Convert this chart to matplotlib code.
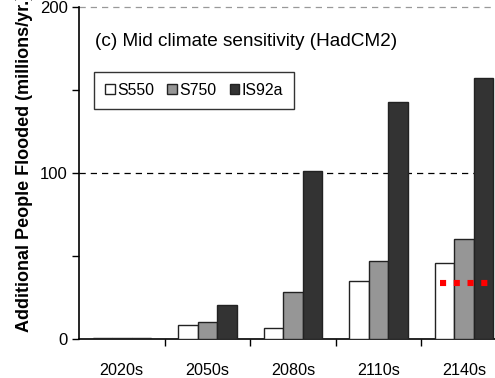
import matplotlib
matplotlib.use("Agg")
import matplotlib.pyplot as plt
import numpy as np

plt.rcParams['font.family'] = ['Liberation Sans', 'DejaVu Sans']

categories = ["2020s", "2050s", "2080s", "2110s", "2140s"]
s550 = [0.5, 8.6, 7.0, 35.0, 46.2]
s750 = [0.5, 10.2, 28.6, 47.0, 60.7]
is92a = [0.5, 20.6, 101.3, 143.0, 157.4]
series_names = ["S550", "S750", "IS92a"]
colors = ["white", "#969696", "#333333"]
red_level = 34.2

fig = plt.figure(figsize=(4.95, 3.78), dpi=100)
ax = fig.add_axes([79/495, 1-339.3/378, 428/495, (339.3-7.3)/378])

x = np.arange(len(categories))
w = 0.228
for i, (vals, name, c) in enumerate(zip([s550, s750, is92a], series_names, colors)):
    ax.bar(x + (i-1)*w, vals, width=w, color=c, edgecolor="#222222", linewidth=1.0, label=name, zorder=3)

ax.axhline(100, color="black", linestyle=(0, (5, 4)), linewidth=0.9, zorder=1)
ax.axhline(200, color="#999999", linestyle=(0, (5, 4)), linewidth=0.9, zorder=1, clip_on=False)
ax.plot([3.72, 4.6], [red_level, red_level], color="red", linestyle=(0, (1, 1.25)), linewidth=4.4, zorder=4, clip_on=False)

ax.set_xlim(-0.5, 4.5)
ax.set_ylim(0, 200)
ax.set_yticks([0, 50, 100, 150, 200])
ax.set_yticklabels(["0", "", "100", "", "200"], fontsize=12)
ax.set_xticks(np.arange(0.5, 4.5, 1))
ax.set_xticklabels([])
ax.set_xticks(x, minor=True)
ax.set_xticklabels(categories, minor=True, fontsize=11.6)
ax.tick_params(axis='x', which='minor', length=0, pad=17)
ax.tick_params(axis='x', which='major', length=5, direction='out', width=1)
ax.tick_params(axis='y', length=5, direction='out', width=1, pad=3)
for s in ["top", "right"]:
    ax.spines[s].set_visible(False)
ax.spines["left"].set_linewidth(1.2)
ax.spines["bottom"].set_linewidth(1.2)

fig.text(25/495, 1-332/378, "Additional People Flooded (millions/yr.)", rotation=90,
         ha="center", va="bottom", fontsize=13, fontweight="bold")
fig.text(95/495, 1-41.7/378, "(c) Mid climate sensitivity (HadCM2)", fontsize=13.7, va="center", ha="left")

leg = ax.legend(loc="upper left", ncol=3, fontsize=11.4,
                frameon=True, fancybox=False, edgecolor="black", handlelength=0.6, handleheight=0.6,
                handletextpad=0.15, columnspacing=0.85, borderpad=0.7, borderaxespad=0)
leg.get_frame().set_linewidth(1.0)
leg.set_bbox_to_anchor((94/495, 1-71.7/378), transform=fig.transFigure)

fig.savefig("out.png", dpi=100)
